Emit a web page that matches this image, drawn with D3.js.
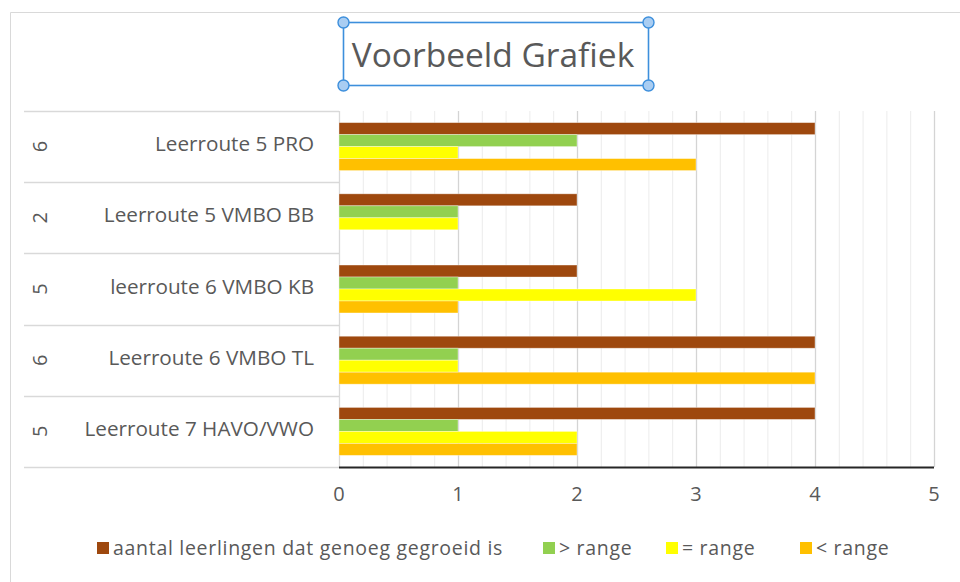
<!DOCTYPE html>
<html><head><meta charset="utf-8">
<script src="https://cdn.jsdelivr.net/npm/d3@7"></script>
<style>
html,body{margin:0;padding:0;background:#fff;}
svg{display:block;font-family:"Open Sans","Noto Sans",sans-serif;}
</style></head>
<body>
<svg id="chart" width="960" height="582"></svg>
<script>
const title = "Voorbeeld Grafiek";
const categories = ["Leerroute 5 PRO","Leerroute 5 VMBO BB","leerroute 6 VMBO KB","Leerroute 6 VMBO TL","Leerroute 7 HAVO/VWO"];
const groupTotals = ["6","2","5","6","5"];
const seriesNames = ["aantal leerlingen dat genoeg gegroeid is","> range","= range","< range"];
const seriesColors = ["#9E480E","#92D050","#FFFF00","#FFC000"];
const genoegValues = [4,2,2,4,4];
const greaterValues = [2,1,1,1,1];
const equalValues = [1,1,3,1,2];
const lessValues = [3,0,1,4,2];
const xTicks = [0,1,2,3,4,5];

const seriesValues = [genoegValues, greaterValues, equalValues, lessValues];
const svg = d3.select("#chart");
const textColor = "#595959";

// chart area border
svg.append("path").attr("d","M10.5,582 V12.5 H960").attr("fill","none").attr("stroke","#d9d9d9");

const plot = {left:339, right:934, top:111, bottom:467};
const x = d3.scaleLinear().domain([0,5]).range([plot.left, plot.right]);
const y = d3.scaleBand().domain(categories).range([plot.top, plot.bottom]).padding(0);
const yInner = d3.scaleBand().domain(d3.range(seriesNames.length)).range([0, y.bandwidth()]).paddingInner(0).paddingOuter(0.97);

// minor gridlines
const minor = d3.range(0, 5.0001, 0.2).filter(v => Math.abs(v - Math.round(v)) > 1e-6);
svg.append("g").selectAll("line").data(minor).join("line")
  .attr("x1", d=>x(d)+0.5).attr("x2", d=>x(d)+0.5)
  .attr("y1", plot.top).attr("y2", plot.bottom)
  .attr("stroke","#ececec").attr("stroke-width",1);
// major gridlines
svg.append("g").selectAll("line").data(xTicks.slice(1)).join("line")
  .attr("x1", d=>x(d)+0.5).attr("x2", d=>x(d)+0.5)
  .attr("y1", plot.top).attr("y2", plot.bottom)
  .attr("stroke","#d4d4d4").attr("stroke-width",1.3);

// category axis lines
const bounds = categories.map(c=>y(c)).concat([plot.bottom]);
svg.append("g").selectAll("line").data(bounds).join("line")
  .attr("x1", 24).attr("x2", plot.left)
  .attr("y1", d=>Math.round(d)+0.5).attr("y2", d=>Math.round(d)+0.5)
  .attr("stroke","#d9d9d9").attr("stroke-width",1.3);
svg.append("line").attr("x1",plot.left+0.5).attr("x2",plot.left+0.5)
  .attr("y1",plot.top).attr("y2",plot.bottom).attr("stroke","#d9d9d9").attr("stroke-width",1.3);

// bars
seriesValues.forEach((vals, si) => {
  svg.append("g").selectAll("rect").data(vals.map((v,i)=>({v, c:categories[i]}))).join("rect")
    .filter(d => d.v > 0)
    .attr("x", x(0)).attr("width", d => x(d.v) - x(0))
    .attr("y", d => y(d.c) + yInner(si)).attr("height", yInner.bandwidth())
    .attr("fill", seriesColors[si])
    .attr("stroke", "rgba(255,255,255,0.45)").attr("stroke-width", 0.8);
});

// value axis line
svg.append("line").attr("x1",plot.left).attr("x2",plot.right)
  .attr("y1",plot.bottom+0.5).attr("y2",plot.bottom+0.5)
  .attr("stroke","#262626").attr("stroke-width",2);

// x tick labels
svg.append("g").selectAll("text").data(xTicks).join("text")
  .attr("x", d=>x(d)).attr("y", 501)
  .attr("text-anchor","middle").attr("font-size",20).attr("fill",textColor)
  .text(d=>d);

// category labels
svg.append("g").selectAll("text").data(categories).join("text")
  .attr("x", 314).attr("y", d=>y(d)+y.bandwidth()/2)
  .attr("dy","0.22em").attr("text-anchor","end").attr("font-size",20.7).attr("fill",textColor)
  .text(d=>d);

// outer group labels (rotated)
svg.append("g").selectAll("text").data(groupTotals).join("text")
  .attr("transform", (d,i)=>`translate(${40},${y(categories[i])+y.bandwidth()/2}) rotate(-90)`)
  .attr("dy","0.35em").attr("text-anchor","middle").attr("font-size",20).attr("fill",textColor)
  .text(d=>d);

// title with selection box
svg.append("text").attr("x",493).attr("y",67).attr("text-anchor","middle")
  .attr("font-size",33.5).attr("fill",textColor).text(title);
const box = {x0:343.5, y0:22.5, x1:648.5, y1:85.5};
svg.append("rect").attr("x",box.x0).attr("y",box.y0).attr("width",box.x1-box.x0).attr("height",box.y1-box.y0)
  .attr("fill","none").attr("stroke","#3D8FDC").attr("stroke-width",1.6);
[[box.x0,box.y0],[box.x1,box.y0],[box.x0,box.y1],[box.x1,box.y1]].forEach(p=>{
  svg.append("circle").attr("cx",p[0]).attr("cy",p[1]).attr("r",5.5)
    .attr("fill","#A9CDF2").attr("stroke","#3D8FDC").attr("stroke-width",1.4);
});

// legend
const legendX = [97, 543, 666, 800];
const legend = svg.append("g");
seriesNames.forEach((n,i)=>{
  legend.append("rect").attr("x",legendX[i]).attr("y",542).attr("width",12).attr("height",12).attr("fill",seriesColors[i]);
  legend.append("text").attr("x",legendX[i]+16).attr("y",554.5)
    .attr("font-size",19.5).attr("letter-spacing",0.7).attr("fill",textColor).text(n);
});
</script>
</body></html>
